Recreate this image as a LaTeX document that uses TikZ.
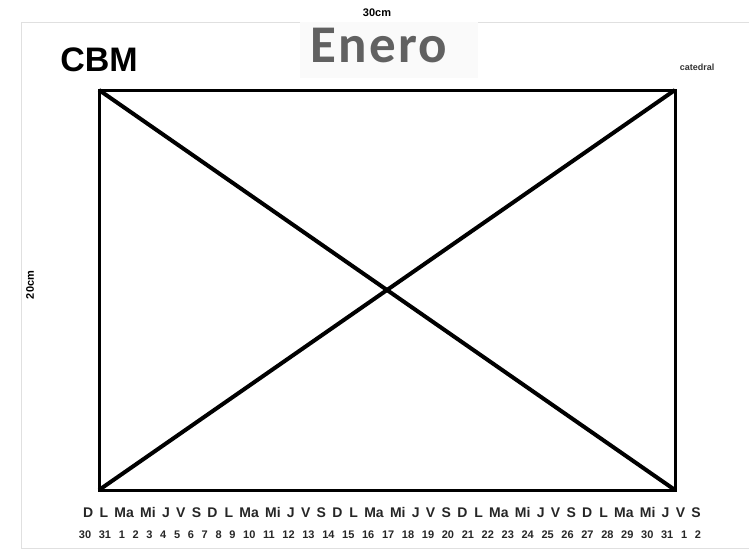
\documentclass[tikz,border=0pt]{standalone}
\usepackage{fontspec}
\setmainfont{Liberation Sans}
\newfontfamily\titlefont{Carlito}
\begin{document}
\begin{tikzpicture}[x=1pt,y=-1pt]
		\useasboundingbox (0,0) rectangle (749,550);
		\draw[black!12, line width=1] (21,549) -- (21,22) -- (749,22);
		\draw[black!12, line width=1] (21,548) -- (749,548);
		\fill[black!2] (300,22) rectangle (478,78);
		\node at (377,13) (ancho) {\fontsize{11}{11}\selectfont\bfseries 30cm};
		\node[rotate=90] at (30,285) (alto) {\fontsize{11}{11}\selectfont\bfseries 20cm};
		\node at (99,60) (cbm) {\fontsize{34}{34}\selectfont\bfseries CBM};
		\node[black!62, anchor=base] at (379,62) (mes) {\titlefont\fontsize{53}{53}\selectfont\bfseries\addfontfeature{LetterSpace=4}Enero};
		\node[black!80] at (697,67) (cat) {\fontsize{9}{9}\selectfont\bfseries catedral};
		
		\coordinate (nw) at (99,90);
		\coordinate (ne) at (675,90);
		\coordinate (sw) at (99,490);
		\coordinate (se) at (675,490);
		\draw[line width=3] (nw) rectangle (se);
		\draw[line width=4] (nw) -- (se);
		\draw[line width=4] (sw) -- (ne);
		
		\node[black!85] at (392,512) (dias) {\fontsize{14}{14}\selectfont\bfseries\spaceskip=6.3pt D L Ma Mi J V S D\enspace L Ma Mi J V S D\enspace L Ma Mi J V S D\enspace L Ma Mi J V S D\enspace L Ma Mi J V S};
		\node[black!85] at (390,535) (nums) {\fontsize{11}{11}\selectfont\bfseries\spaceskip=7.7pt 30 31 1 2 3 4 5 6 7 8 9 10 11 12 13 14 15 16 17 18 19 20 21 22 23 24 25 26 27 28 29 30 31 1 2};
	\end{tikzpicture}
\end{document}
